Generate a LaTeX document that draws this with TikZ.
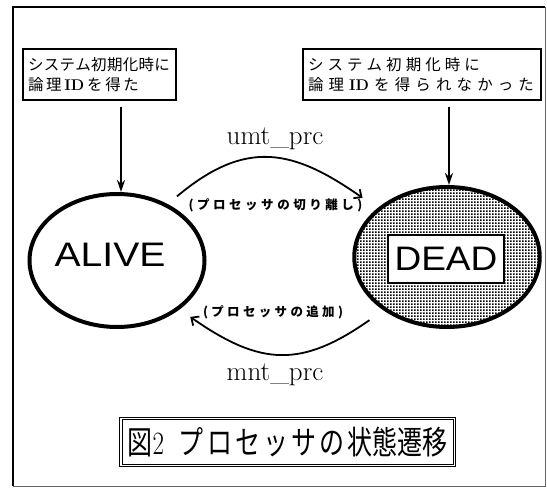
\documentclass[tikz,border=0pt]{standalone}
\usepackage{fontspec}
\usetikzlibrary{arrows.meta,patterns,shapes.geometric}
\newfontfamily\jp{Noto Sans CJK JP}
\newfontfamily\sansA{Liberation Sans}
\pgfdeclarepatternformonly{densedots}{\pgfpointorigin}{\pgfpoint{3pt}{3pt}}{\pgfpoint{3pt}{3pt}}{\pgfpathrectangle{\pgfpointorigin}{\pgfpoint{2pt}{2pt}}\pgfusepath{fill}}
\makeatletter
\newcommand\spreadline[2]{\makebox[#1][s]{\def\sp@sep{}\@tfor\sp@c:=#2\do{\sp@sep\sp@c\def\sp@sep{\hfill}}}}
\makeatother
\begin{document}
\begin{tikzpicture}[x=1pt,y=1pt,
  tbox/.style={draw, line width=1.2pt, inner ysep=0pt, inner xsep=5pt, align=left, minimum height=51pt,
    font=\jp\fontsize{15.5}{20.5}\selectfont},
  state/.style={ellipse, draw, line width=4pt, inner sep=0pt},
  stname/.style={font=\sansA\fontsize{34}{34}\selectfont, inner sep=0pt},
  downarrow/.style={-{Stealth[length=12pt,width=8pt]}, line width=2.2pt},
  arcarrow/.style={-{Straight Barb[length=6pt,width=11pt]}, line width=1.8pt},
  small/.style={font=\jp\bfseries\fontsize{12.5}{14}\selectfont, inner sep=0pt},
  prc/.style={anchor=base, font=\fontsize{27}{27}\selectfont, inner sep=0pt}]
\useasboundingbox (0,0) rectangle (547,488);
% frame
\draw[line width=0.8pt, black!60] (545,481) -- (545,2) -- (13,2);
\draw[line width=1.6pt] (13,2) -- (13,481) -- (545,481);
% top boxes
\node[tbox, text width=143pt] (lbox) at (99.5,413.5)
  {\spreadline{142pt}{システム初期化時に}\\\spreadline{111pt}{論理{{\rmfamily\bfseries ID}}を得た}};
\node[tbox, text width=228pt] (rbox) at (422,413.5)
  {\spreadline{172pt}{システム初期化時に}\\\spreadline{226pt}{論理{{\rmfamily\bfseries ID}}を得られなかった}};
% states
\node[state, minimum width=175pt, minimum height=133pt] (alive) at (117,227.5) {};
\node[stname] (alivet) at (110,233) {\scalebox{1.15}[1]{ALIVE}};
\node[state, pattern=densedots, minimum width=185.5pt, minimum height=140pt] (dead) at (447,231) {};
\node[draw, fill=white, line width=1.5pt, minimum width=116pt, minimum height=48pt, inner sep=0pt,
  stname] (deadt) at (446,229) {\scalebox{1.09}[1]{DEAD}};
% initial arrows
\coordinate (la) at (121,381);
\coordinate (ra) at (449,381);
\draw[downarrow] (la) -- (la |- alive.north);
\draw[downarrow] (ra) -- (ra |- dead.north);
% transitions
\draw[arcarrow, shorten <=12pt, shorten >=18pt] (alive.48) to[out=40,in=145,looseness=1.25] (dead.145);
\draw[arcarrow, shorten <=17pt, shorten >=13pt] (dead.220) to[out=215,in=-35,looseness=1.25] (alive.-38);
% labels
\node[prc] (umt) at (275,343) {umt\_prc};
\node[prc] (mnt) at (275,107) {mnt\_prc};
\node[small] (lab1) at (275.5,283) {\spreadline{174pt}{(プロセッサの切り離し)}};
\node[small] (lab2) at (273,176) {\spreadline{140pt}{(プロセッサの追加)}};
% caption
\node[draw, double, double distance=1.5pt, line width=1pt, minimum width=333.5pt, minimum height=47pt, inner sep=0pt,
  font=\jp\fontsize{25}{25}\selectfont] (cap) at (287.5,46)
  {\scalebox{1}[1.3]{\makebox[320pt][s]{図{\rmfamily 2}\hspace{15pt}プ\hfill ロ\hfill セ\hfill ッ\hfill サ\hfill の\hfill 状態遷移}}};
\end{tikzpicture}
\end{document}
